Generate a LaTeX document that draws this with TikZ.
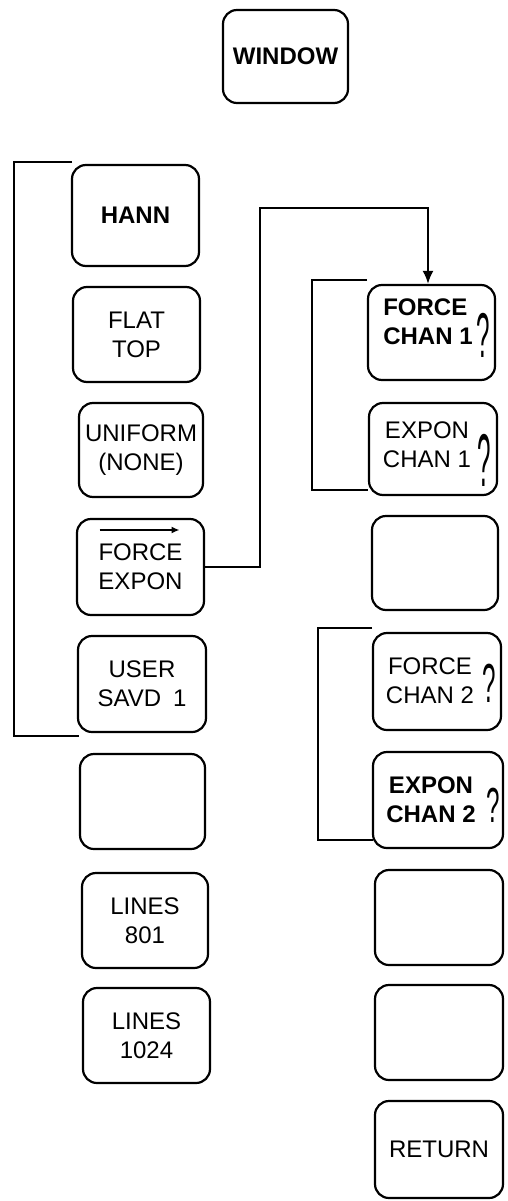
\documentclass[tikz,border=0pt]{standalone}
\usepackage{fontspec}
\setmainfont{Liberation Sans}
\usetikzlibrary{arrows.meta}
\newcommand\keyfont{\fontsize{24}{29}\selectfont}
\newcommand\qmfont{\fontsize{44}{44}\selectfont}
\tikzset{
  key/.style={draw, line width=2.2pt, rounded corners=14pt, inner sep=0pt, align=center, font=\keyfont},
  lk/.style={key, minimum width=127pt, minimum height=95pt},
  ktxt/.style={inner sep=0pt, font=\keyfont},
  bkt/.style={line width=2.1pt},
  qm/.style={inner sep=0pt, font=\qmfont},
}
\begin{document}
\begin{tikzpicture}[x=1pt,y=-1pt]
\useasboundingbox (0,0) rectangle (508,1201);

% top key
\node[key, minimum width=125pt, minimum height=93pt, font=\keyfont\bfseries] (win) at (285.5,56.5) {WINDOW};

% left column
\node[key, minimum width=127pt, minimum height=101pt, font=\keyfont\bfseries] (hann) at (135.5,215.5) {HANN};
\node[lk] (flat) at (136.5,334.5) {FLAT\\TOP};
\node[lk, minimum width=124pt, minimum height=94pt] (unif) at (141,450) {UNIFORM\\(NONE)};
\node[lk, minimum height=96pt] (fe) at (140.5,567) {FORCE\\EXPON};
\node[lk, minimum width=128pt, minimum height=96pt] (user) at (142,684) {USER\\SAVD\hspace{0.5em}1};
\node[lk, minimum width=125pt] (le1) at (142.5,801.5) {};
\node[lk, minimum width=126pt] (l801) at (145,920.5) {LINES\\801};
\node[lk] (l1024) at (146.5,1035.5) {LINES\\1024};

% arrow over FORCE
\draw[line width=1.5pt, -{Latex[length=8pt,width=7pt]}] ([shift={(-41,-37)}]fe.center) -- ([shift={(39,-37)}]fe.center);

% right column
\node[lk] (fc1) at (431.5,332.5) {};
\node[lk, minimum width=128pt, minimum height=92pt] (ec1) at (433,449) {};
\node[lk, minimum width=126pt, minimum height=94pt] (re1) at (435,563) {};
\node[lk, minimum width=128pt, minimum height=97pt] (fc2) at (437,681.5) {};
\node[lk, minimum width=130pt, minimum height=96pt] (ec2) at (438,800) {};
\node[lk, minimum width=128pt] (re2) at (439,917.5) {};
\node[lk, minimum width=128pt] (re3) at (439,1032.5) {};
\node[lk, minimum width=128pt, minimum height=97pt] (ret) at (439,1149.5) {RETURN};

% texts of the right column keys
\node[ktxt, align=left, font=\keyfont\bfseries] (fc1t) at (428,322) {FORCE\\CHAN 1};
\node[ktxt, align=center] (ec1t) at (427,445) {EXPON\\CHAN 1};
\node[ktxt, align=center] (fc2t) at (430,681) {FORCE\\CHAN 2};
\node[ktxt, align=center, font=\keyfont\bfseries] (ec2t) at (431,800) {EXPON\\CHAN 2};

% tall question marks
\node[qm] (q1) at (483,335) {\scalebox{0.55}[1.44]{?}};
\node[qm] (q2) at (484,460) {\scalebox{0.55}[1.7]{?}};
\node[qm] (q3) at (489,683) {\scalebox{0.55}[1.25]{?}};
\node[qm] (q4) at (493,805) {\scalebox{0.55}[1.12]{?}};

% brackets
\coordinate (lb1) at (72,162);
\coordinate (lb2) at (14,162);
\coordinate (lb3) at (14,736);
\coordinate (lb4) at (79,736);
\draw[bkt] (lb1) -- (lb2) -- (lb3) -- (lb4);
\coordinate (ra1) at (367,280);
\coordinate (ra2) at (312,280);
\coordinate (ra3) at (312,490);
\coordinate (ra4) at (368,490);
\draw[bkt] (ra1) -- (ra2) -- (ra3) -- (ra4);
\coordinate (rb1) at (372,628);
\coordinate (rb2) at (318,628);
\coordinate (rb3) at (318,840);
\coordinate (rb4) at (373,840);
\draw[bkt] (rb1) -- (rb2) -- (rb3) -- (rb4);

% connector FORCE EXPON -> FORCE CHAN 1
\coordinate (c1) at (260,208);
\draw[bkt, -{Latex[length=13pt,width=11pt]}] (fe.east) -| (c1) -| ([xshift=-3.5pt]fc1.north);
\end{tikzpicture}
\end{document}
